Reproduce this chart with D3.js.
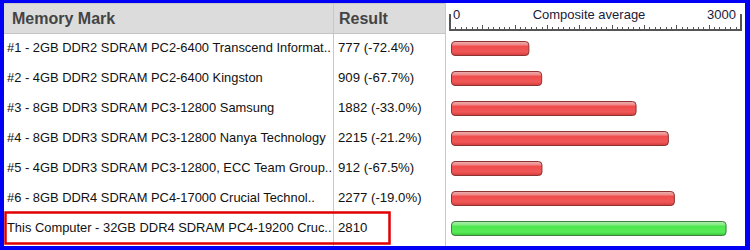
<!DOCTYPE html>
<html>
<head>
<meta charset="utf-8">
<script src="https://cdn.jsdelivr.net/npm/d3@7"></script>
<style>
  body { margin: 0; background: #fff; }
  svg { display: block; font-family: "Liberation Sans", Arial, sans-serif; }
</style>
</head>
<body>
<svg id="chart"></svg>
<script>
// Data
const names = [
  "#1 - 2GB DDR2 SDRAM PC2-6400 Transcend Informat..",
  "#2 - 4GB DDR2 SDRAM PC2-6400 Kingston",
  "#3 - 8GB DDR3 SDRAM PC3-12800 Samsung",
  "#4 - 8GB DDR3 SDRAM PC3-12800 Nanya Technology",
  "#5 - 4GB DDR3 SDRAM PC3-12800, ECC Team Group..",
  "#6 - 8GB DDR4 SDRAM PC4-17000 Crucial Technol..",
  "This Computer - 32GB DDR4 SDRAM PC4-19200 Cruc.."
];
const scores = [777, 909, 1882, 2215, 912, 2277, 2810];
const diffs = ["-72.4%", "-67.7%", "-33.0%", "-21.2%", "-67.5%", "-19.0%", null];
const isThis = [false, false, false, false, false, false, true];
const axisMax = 3000;
const headers = ["Memory Mark", "Result", "Composite average"];

const w = 750, h = 250;
const svg = d3.select("#chart").attr("width", w).attr("height", h);

// gradients for the glossy bars
const defs = svg.append("defs");
function grad(id, stops) {
  const g = defs.append("linearGradient").attr("id", id)
    .attr("x1", 0).attr("y1", 0).attr("x2", 0).attr("y2", 1);
  stops.forEach(s => g.append("stop").attr("offset", s[0]).attr("stop-color", s[1]));
}
grad("redGrad", [[0, "#e9b4b4"], [0.22, "#f08a8a"], [0.35, "#f04c4c"], [0.75, "#f05858"], [1, "#d23a3a"]]);
grad("greenGrad", [[0, "#b4e9b4"], [0.22, "#86ee86"], [0.35, "#4ee64e"], [0.75, "#58ec58"], [1, "#3ac23a"]]);

// frame
svg.append("rect").attr("width", w).attr("height", h).attr("fill", "#0000f4");
svg.append("rect").attr("x", 4).attr("y", 3).attr("width", 741).attr("height", 243).attr("fill", "#fff");

const col1 = 4, col2 = 333, col3 = 445;
const headTop = 3, headBot = 33, rowH = 30;

// header background
svg.append("rect").attr("x", col1).attr("y", headTop).attr("width", col3 - col1).attr("height", headBot - headTop)
  .attr("fill", "#dcdcdc");
svg.append("line").attr("x1", col1).attr("x2", col3).attr("y1", headBot + 0.5).attr("y2", headBot + 0.5)
  .attr("stroke", "#c4c4c4");
svg.append("line").attr("x1", col1).attr("x2", col3).attr("y1", headTop + 0.5).attr("y2", headTop + 0.5)
  .attr("stroke", "#c8c8c8");

// column separators
[col2, col3].forEach(x => {
  svg.append("line").attr("x1", x + 0.5).attr("x2", x + 0.5).attr("y1", headTop).attr("y2", 246)
    .attr("stroke", "#c8c8c8");
});

svg.append("text").attr("x", 12).attr("y", 24).text(headers[0])
  .attr("font-size", 16).attr("font-weight", "bold").attr("fill", "#444");
svg.append("text").attr("x", 339).attr("y", 24).text(headers[1])
  .attr("font-size", 16).attr("font-weight", "bold").attr("fill", "#444");

// scale + axis
const x = d3.scaleLinear().domain([0, axisMax]).range([450, 741]);
const axisY = 30;
const ax = svg.append("g").attr("stroke", "#555");
ax.append("line").attr("x1", x(0)).attr("x2", x(axisMax)).attr("y1", axisY).attr("y2", axisY).attr("stroke-width", 2);
[0, axisMax].forEach(v => {
  ax.append("line").attr("x1", x(v)).attr("x2", x(v)).attr("y1", 14).attr("y2", axisY + 1).attr("stroke-width", 2);
});
const minor = d3.range(1, 54).map(i => i * axisMax / 54);
ax.selectAll(".tick").data(minor).enter().append("line")
  .attr("x1", d => Math.round(x(d)) + 0.5).attr("x2", d => Math.round(x(d)) + 0.5)
  .attr("y1", (d, i) => (i + 1) % 6 === 0 ? axisY - 5 : axisY - 3).attr("y2", axisY)
  .attr("stroke-width", 1);

const axText = svg.append("g").attr("font-size", 13).attr("fill", "#1a1a3a");
axText.append("text").attr("x", x(0) + 3).attr("y", 19).text("0");
axText.append("text").attr("x", x(axisMax) - 5).attr("y", 19).attr("text-anchor", "end").text(axisMax);
axText.append("text").attr("x", 589).attr("y", 19).attr("text-anchor", "middle").text(headers[2]);

// rows
const rows = svg.selectAll(".row").data(names).enter().append("g")
  .attr("transform", (d, i) => `translate(0,${headBot + i * rowH})`);

rows.append("text").attr("x", 7).attr("y", 19).attr("font-size", 12.9).attr("fill", "#111")
  .text(d => d);
rows.append("text").attr("x", 338).attr("y", 19).attr("font-size", 13.2).attr("fill", "#111")
  .text((d, i) => diffs[i] ? `${scores[i]} (${diffs[i]})` : `${scores[i]}`);

rows.append("rect")
  .attr("x", x(0) + 1.5).attr("y", 8.5)
  .attr("width", (d, i) => x(scores[i]) - x(0) + 2)
  .attr("height", 14).attr("rx", 3.5)
  .attr("fill", (d, i) => isThis[i] ? "url(#greenGrad)" : "url(#redGrad)")
  .attr("stroke", (d, i) => isThis[i] ? "#3f7f3f" : "#8c3434")
  .attr("stroke-width", 1);

// highlight box on this computer's row
const hi = isThis.indexOf(true);
svg.append("rect").attr("x", 5.5).attr("y", headBot + hi * rowH - 0.5)
  .attr("width", 384).attr("height", 31)
  .attr("fill", "none").attr("stroke", "#e00000").attr("stroke-width", 2.5);
</script>
</body>
</html>
